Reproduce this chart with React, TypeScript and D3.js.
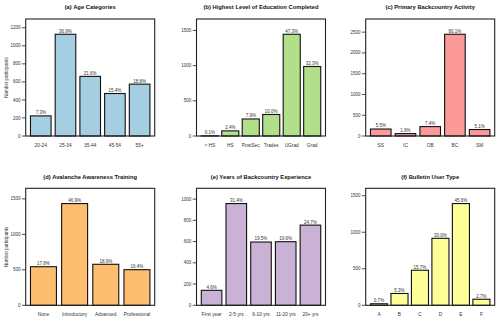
import React from 'react'
import * as d3 from 'd3'

// panel data (counts, labels as printed)
const ageCats = ['20-24', '25-34', '35-44', '45-54', '55+']
const ageCounts = [223, 1128, 661, 471, 575]
const agePct = ['7.3%', '36.9%', '21.6%', '15.4%', '18.8%']

const eduCats = ['< HS', 'HS', 'PostSec', 'Trades', 'UGrad', 'Grad']
const eduCounts = [3, 73, 242, 306, 1446, 988]
const eduPct = ['0.1%', '2.4%', '7.9%', '10.0%', '47.3%', '32.3%']

const actCats = ['SS', 'IC', 'OB', 'BC', 'SM']
const actCounts = [168, 58, 226, 2449, 156]
const actPct = ['5.5%', '1.9%', '7.4%', '80.1%', '5.1%']

const trainCats = ['None', 'Introductory', 'Advanced', 'Professional']
const trainCounts = [544, 1434, 578, 502]
const trainPct = ['17.8%', '46.9%', '18.9%', '16.4%']

const expCats = ['First year', '2-5 yrs', '6-10 yrs', '11-20 yrs', '20+ yrs']
const expCounts = [141, 958, 596, 599, 755]
const expPct = ['4.6%', '31.4%', '19.5%', '19.6%', '24.7%']

const userCats = ['A', 'B', 'C', 'D', 'E', 'F']
const userCounts = [21, 162, 480, 917, 1393, 83]
const userPct = ['0.7%', '5.3%', '15.7%', '30.0%', '45.6%', '2.7%']

const panels = [
  { title: '(a) Age Categories', cats: ageCats, counts: ageCounts, pct: agePct, fill: '#a6cee3', ylab: true },
  { title: '(b) Highest Level of Education Completed', cats: eduCats, counts: eduCounts, pct: eduPct, fill: '#b2df8a', ylab: false },
  { title: '(c) Primary Backcountry Activity', cats: actCats, counts: actCounts, pct: actPct, fill: '#fb9a99', ylab: false },
  { title: '(d) Avalanche Awareness Training', cats: trainCats, counts: trainCounts, pct: trainPct, fill: '#fdbf6f', ylab: true },
  { title: '(e) Years of Backcountry Experience', cats: expCats, counts: expCounts, pct: expPct, fill: '#cab2d6', ylab: false },
  { title: '(f) Bulletin User Type', cats: userCats, counts: userCounts, pct: userPct, fill: '#ffff99', ylab: false }
]

const W = 500
const H = 322
const colLeft = [25.7, 196.5, 365.7]
const rowTop = [19, 188.3]
const plotW = 129
const plotH = 117
const font = 'Liberation Sans, Arial, Helvetica, sans-serif'

const Panel = ({ p, x0, y0 }) => {
  const n = p.cats.length
  // R barplot style: width 1, space 0.2, 4% padding each side
  const lo = 0.2
  const hi = n * 1.2
  const pad = (hi - lo) * 0.04
  const x = d3.scaleLinear().domain([lo - pad, hi + pad]).range([0, plotW])
  const y = d3.scaleLinear().domain([0, d3.max(p.counts) * 1.15]).range([plotH, 0])
  const ticks = y.ticks(5)

  return (
    <g transform={`translate(${x0},${y0})`}>
      <text x={plotW / 2} y={-9.6} textAnchor="middle" fontSize={5.8} fontWeight="bold" fill="#111">
        {p.title}
      </text>
      {p.counts.map((c, i) => {
        const bx = x(0.2 + i * 1.2)
        const bw = x(1.2 + i * 1.2) - bx
        return (
          <g key={i}>
            <rect x={bx} y={y(c)} width={bw} height={plotH - y(c)} fill={p.fill} stroke="#111" strokeWidth={1.1} />
            <text x={bx + bw / 2} y={y(c) - 1.6} textAnchor="middle" fontSize={4.5} fill="#333">
              {p.pct[i]}
            </text>
            <text x={bx + bw / 2} y={plotH + 11} textAnchor="middle" fontSize={4.8} fill="#333">
              {p.cats[i]}
            </text>
          </g>
        )
      })}
      {ticks.map((t) => (
        <g key={t} transform={`translate(0,${y(t)})`}>
          <line x1={-3.8} x2={0} stroke="#222" strokeWidth={0.8} />
          <text x={-5.2} dy="0.35em" textAnchor="end" fontSize={4.5} fill="#333">
            {t}
          </text>
        </g>
      ))}
      <rect x={0} y={0} width={plotW} height={plotH} fill="none" stroke="#222" strokeWidth={1.1} />
      {p.ylab && (
        <text
          transform={`translate(${8.3 - x0},${plotH / 2}) rotate(-90)`}
          textAnchor="middle"
          fontSize={4.5}
          fill="#333"
        >
          Number participants
        </text>
      )}
    </g>
  )
}

const App = () => {
  return (
    <div style={{ position: 'absolute', left: 0, top: 0, width: W, height: H, background: '#fff' }}>
      <svg width={W} height={H} style={{ display: 'block', fontFamily: font }}>
        <rect width={W} height={H} fill="#fff" />
        {panels.map((p, i) => (
          <Panel key={i} p={p} x0={colLeft[i % 3]} y0={rowTop[Math.floor(i / 3)]} />
        ))}
      </svg>
    </div>
  )
}

export default App
